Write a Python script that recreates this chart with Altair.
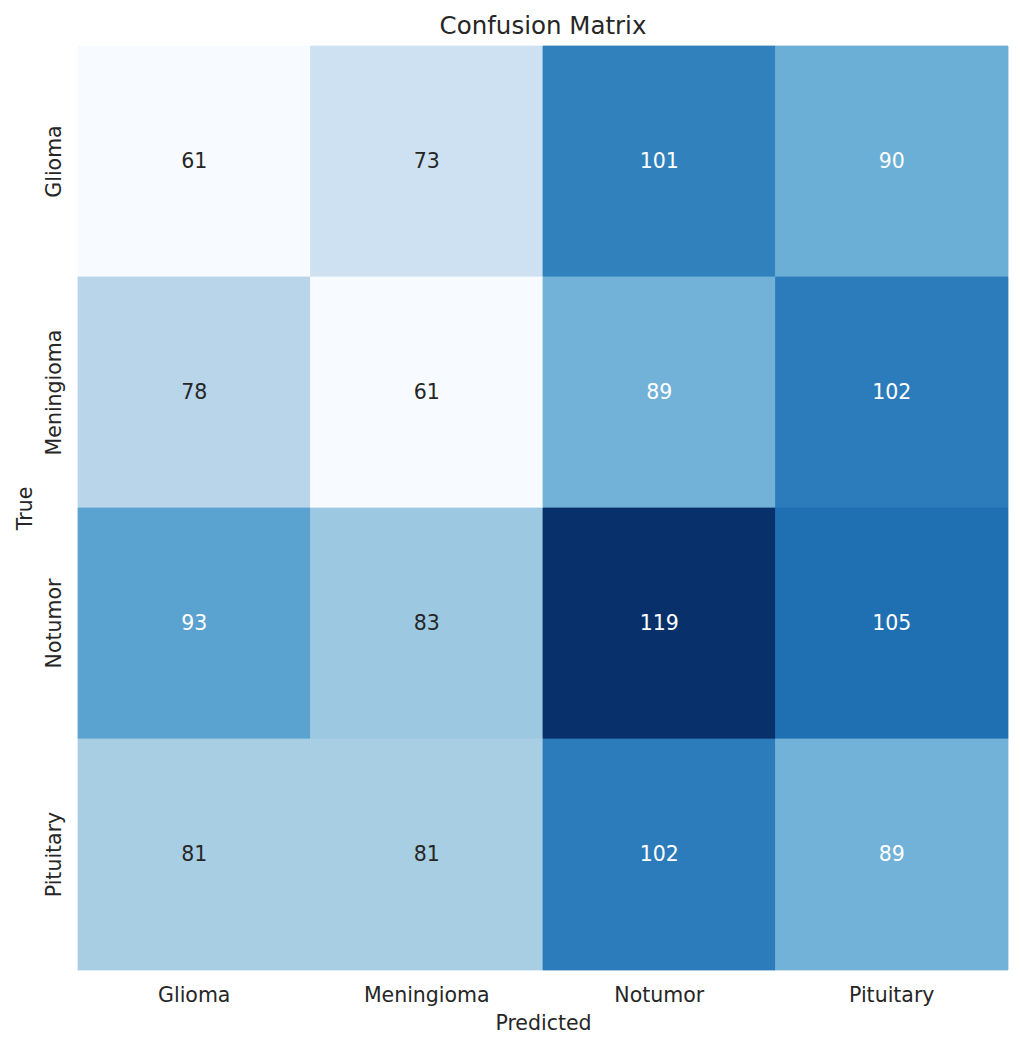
import altair as alt
import pandas as pd

classes = ["Glioma", "Meningioma", "Notumor", "Pituitary"]
matrix = [
    [61, 73, 101, 90],
    [78, 61, 89, 102],
    [93, 83, 119, 105],
    [81, 81, 102, 89],
]
blues = ["#f7fbff", "#deebf7", "#c6dbef", "#9ecae1", "#6baed6",
         "#4292c6", "#2171b5", "#08519c", "#08306b"]

rows = []
for i, t in enumerate(classes):
    for j, p in enumerate(classes):
        rows.append({"True": t, "Predicted": p, "value": matrix[i][j]})
df = pd.DataFrame(rows)

vmin, vmax = 61, 119
domain = [vmin + (vmax - vmin) * k / 8 for k in range(9)]
cscale = alt.Scale(domain=domain, range=blues, interpolate="rgb")

FONT = "DejaVu Sans"
FS = 20.5

base = alt.Chart(df)
rect = base.mark_rect(strokeWidth=0.8).encode(
    x=alt.X("Predicted:N", sort=classes,
            axis=alt.Axis(title="Predicted", labelAngle=0, domain=False, ticks=False,
                          labelPadding=15, titlePadding=8, labelFontSize=FS,
                          titleFontSize=FS, titleFontWeight="normal",
                          labelColor="#262626", titleColor="#262626",
                          labelFont=FONT, titleFont=FONT)),
    y=alt.Y("True:N", sort=classes,
            axis=alt.Axis(title="True", labelAngle=-90, labelAlign="center",
                          labelBaseline="bottom", domain=False, ticks=False,
                          labelPadding=14, titlePadding=9, labelFontSize=FS,
                          titleFontSize=FS, titleFontWeight="normal",
                          labelColor="#262626", titleColor="#262626",
                          labelFont=FONT, titleFont=FONT)),
    color=alt.Color("value:Q", legend=None, scale=cscale),
    stroke=alt.Stroke("value:Q", legend=None, scale=cscale),
)
text = base.mark_text(fontSize=FS, font=FONT).encode(
    x=alt.X("Predicted:N", sort=classes),
    y=alt.Y("True:N", sort=classes),
    text="value:Q",
    color=alt.condition(alt.datum.value >= 86, alt.value("white"), alt.value("#262626")),
)

chart = (rect + text).properties(
    width=930, height=924,
    title=alt.TitleParams("Confusion Matrix", fontSize=24.5, font=FONT,
                          fontWeight="normal", color="#262626", offset=6),
    padding={"left": 70, "top": 38, "right": 4, "bottom": 68},
    autosize=alt.AutoSizeParams(type="none"),
).resolve_scale(color="independent").configure_view(stroke=None).configure_scale(
    bandPaddingInner=0, bandPaddingOuter=0)

chart.save("out.html", embed_options={"renderer": "svg", "actions": False})
